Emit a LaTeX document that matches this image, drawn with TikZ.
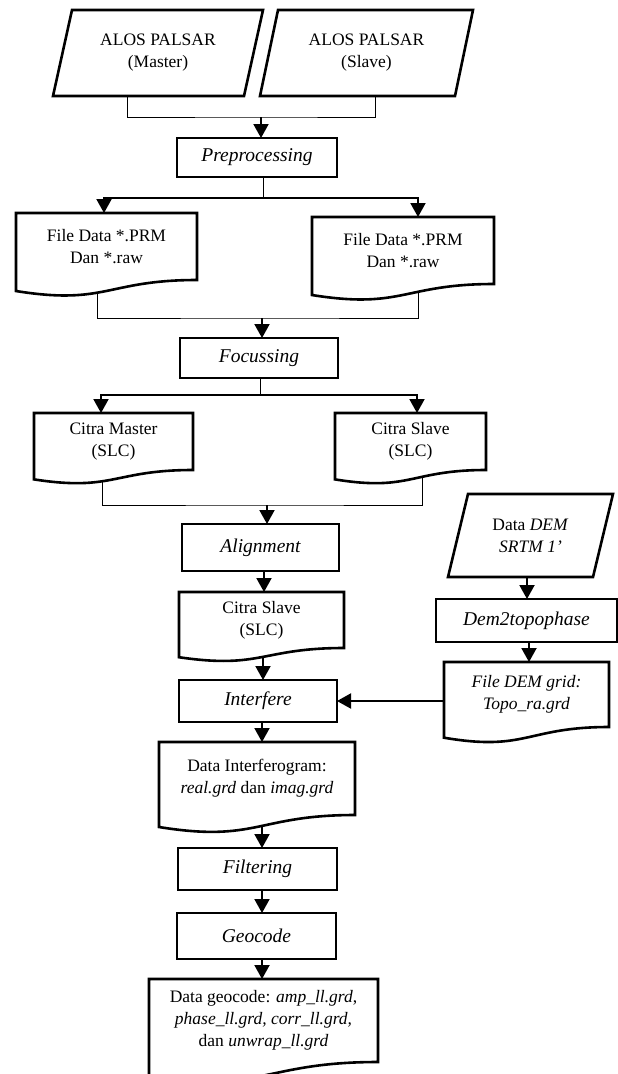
\documentclass[tikz,border=0pt]{standalone}
\usepackage{fontspec}
\setmainfont{Liberation Serif}
\usetikzlibrary{arrows.meta,calc}
\pgfdeclarelayer{lines}
\pgfdeclarelayer{shapes}
\pgfsetlayers{lines,shapes,main}
\newcommand{\docout}[1]{\draw[outl] let \p1=(#1.north west), \p2=(#1.south east),
  \n1={(\y1-\y2)*0.1646}, \n2={(\y1-\y2)*0.381}, \n3={(\x1+\x2)/2} in
  (\x2,\y2) -- (\x2,\y1) -- (\x1,\y1) -- (\x1,\y2-\n1)
  .. controls (\n3,\y2-\n2) and (\n3,\y2) .. (\x2,\y2) -- cycle;}
\newcommand{\paraout}[2]{\draw[outl] ([xshift=#2]#1.north west) -- (#1.north east)
  -- ([xshift=-#2]#1.south east) -- (#1.south west) -- cycle;}
\tikzset{
  txt/.style={draw=none, inner sep=0pt, outer sep=0pt, align=center,
    font=\fontsize{17.5pt}{22pt}\selectfont},
  proc/.style={txt, draw, line width=2.6pt, font=\fontsize{19.5pt}{23pt}\selectfont\itshape},
  outl/.style={draw, fill=white, line width=2.6pt},
  conn/.style={line width=0.8pt},
  arr/.style={line width=2pt, -{Triangle[length=14pt,width=15pt]}}
}
\begin{document}
\begin{tikzpicture}[x=1pt,y=-1pt]
\useasboundingbox (0,0) rectangle (618,1074);
\begin{pgfonlayer}{lines}
\fill[white] (0,0) rectangle (618,1074);
\end{pgfonlayer}

% input parallelograms
\node[txt, minimum width=210pt, minimum height=86pt] (mas) at (158,53) {ALOS PALSAR\\(Master)};
\node[txt, minimum width=213pt, minimum height=86pt] (sla) at (366.5,53) {ALOS PALSAR\\(Slave)};
\node[txt, minimum width=165pt, minimum height=83pt] (dem) at (530.5,535.5) {Data \textit{DEM}\\\textit{SRTM 1’}};

% process boxes
\node[proc, minimum width=160pt, minimum height=39pt] (pre) at (257,157.5) {Preprocessing};
\node[proc, minimum width=158pt, minimum height=40pt] (foc) at (259,358) {Focussing};
\node[proc, minimum width=157pt, minimum height=47pt] (ali) at (260.5,547.5) {Alignment};
\node[proc, minimum width=158pt, minimum height=42pt] (intf) at (258,701) {Interfere};
\node[proc, minimum width=159pt, minimum height=42pt] (filt) at (257.5,869) {Filtering};
\node[proc, minimum width=159pt, minimum height=46pt] (geo) at (256.5,936) {Geocode};
\node[proc, minimum width=181pt, minimum height=43pt] (dem2) at (526.5,620.5) {Dem2topophase};

% documents
\node[txt, minimum width=181pt, minimum height=67pt] (fd1) at (106.5,246.5) {File Data *.PRM\\Dan *.raw};
\node[txt, minimum width=182pt, minimum height=67pt] (fd2) at (403,250.5) {File Data *.PRM\\Dan *.raw};
\node[txt, minimum width=159pt, minimum height=57pt] (cm) at (113.5,441.5) {Citra Master\\(SLC)};
\node[txt, minimum width=151pt, minimum height=57pt] (cs) at (410.5,441.5) {Citra Slave\\(SLC)};
\node[txt, minimum width=165pt, minimum height=56pt] (cs2) at (261.5,620) {Citra Slave\\(SLC)};
\node[txt, minimum width=196pt, minimum height=73pt] (dint) at (257,778.5) {Data Interferogram:\\\textit{real.grd} dan \textit{imag.grd}};
\node[txt, minimum width=165pt, minimum height=65pt] (fdem) at (526.5,694.5) {\textit{File DEM grid:}\\\textit{Topo\_ra.grd}};
\node[txt, minimum width=229pt, minimum height=83pt] (fin) at (263.5,1020.5) {Data geocode: \textit{amp\_ll.grd},\\\textit{phase\_ll.grd, corr\_ll.grd,}\\dan \textit{unwrap\_ll.grd}};

\begin{pgfonlayer}{shapes}
\paraout{mas}{19pt}
\paraout{sla}{18pt}
\paraout{dem}{20pt}
\docout{fd1}
\docout{fd2}
\docout{cm}
\docout{cs}
\docout{cs2}
\docout{dint}
\docout{fdem}
\docout{fin}
\end{pgfonlayer}

\begin{pgfonlayer}{lines}
\coordinate (j1) at (261,117);
\draw[conn] ([xshift=-31pt]mas.south) |- (j1) -| ([xshift=8.5pt]sla.south);
\draw[arr] (j1) -- (j1 |- pre.north);

\draw[conn] ([xshift=6pt]pre.south) -- ++(0,21) coordinate (j2);
\draw[arr] (j2) -| ([xshift=-2.5pt]fd1.north);
\draw[arr] (j2) -| ([xshift=15pt]fd2.north);

\coordinate (j3) at (262,318);
\draw[conn] ([xshift=-9.5pt]fd1.center) |- (j3) -| ([xshift=15pt]fd2.center);
\draw[arr] (j3) -- (j3 |- foc.north);

\draw[conn] ([xshift=1pt]foc.south) -- ++(0,17) coordinate (j4);
\draw[arr] (j4) -| ([xshift=-12.5pt]cm.north);
\draw[arr] (j4) -| ([xshift=6.5pt]cs.north);

\coordinate (j5) at (267,505);
\draw[conn] ([xshift=-11.5pt]cm.center) |- (j5) -| ([xshift=11.5pt]cs.center);
\draw[arr] (j5) -- (j5 |- ali.north);

\draw[arr] ([xshift=3.5pt]ali.south) -- ([xshift=3.5pt]ali.south |- cs2.north);
\draw[arr] ([xshift=1.5pt]cs2.center) -- ([xshift=1.5pt]cs2.center |- intf.north);
\draw[arr] ([xshift=4pt]intf.south) -- ([xshift=4pt]intf.south |- dint.north);
\draw[arr] ([xshift=5pt]dint.center) -- ([xshift=5pt]dint.center |- filt.north);
\draw[arr] ([xshift=4.5pt]filt.south) -- ([xshift=4.5pt]filt.south |- geo.north);
\draw[arr] ([xshift=5.5pt]geo.south) -- ([xshift=5.5pt]geo.south |- fin.north);

\draw[arr] ([xshift=-3.5pt]dem.south) -- ([xshift=-3.5pt]dem.south |- dem2.north);
\draw[arr] ([xshift=2.5pt]dem2.south) -- ([xshift=2.5pt]dem2.south |- fdem.north);
\draw[arr] (fdem.west |- intf.east) -- (intf.east);
\end{pgfonlayer}
\end{tikzpicture}
\end{document}
